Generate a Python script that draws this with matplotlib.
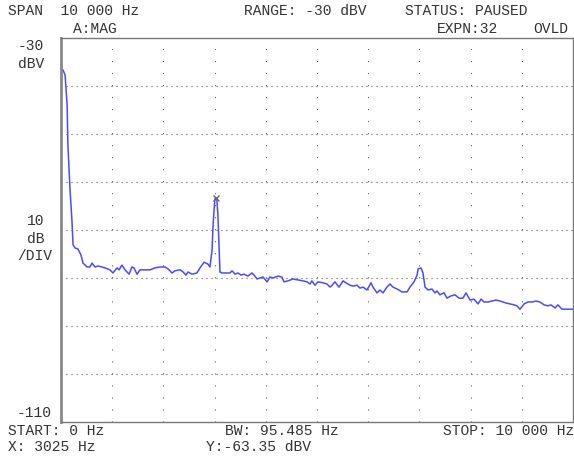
import matplotlib
matplotlib.use("Agg")
import matplotlib.pyplot as plt

# trace
freq_hz = [0, 40, 80, 120, 135, 175, 215, 235, 275, 330,
           390, 430, 510, 565, 605, 665, 725, 800, 860, 955,
           1015, 1095, 1135, 1190, 1250, 1330, 1385, 1425, 1485, 1545,
           1640, 1740, 1835, 1935, 2030, 2090, 2170, 2225, 2325, 2385,
           2440, 2480, 2560, 2655, 2715, 2795, 2870, 2910, 2950, 2970,
           3005, 3025, 3045, 3065, 3085, 3105, 3145, 3205, 3300, 3340,
           3400, 3455, 3515, 3575, 3650, 3730, 3770, 3830, 3885, 3945,
           4025, 4080, 4140, 4240, 4315, 4355, 4435, 4530, 4630, 4725,
           4805, 4865, 4900, 4960, 5020, 5115, 5195, 5255, 5295, 5350,
           5430, 5510, 5565, 5645, 5705, 5780, 5840, 5900, 5975, 6055,
           6095, 6170, 6230, 6290, 6365, 6425, 6485, 6565, 6660, 6760,
           6815, 6895, 6955, 6975, 7030, 7070, 7110, 7170, 7245, 7305,
           7345, 7400, 7480, 7540, 7615, 7695, 7775, 7850, 7910, 7990,
           8065, 8145, 8205, 8260, 8340, 8420, 8495, 8575, 8635, 8690,
           8770, 8850, 8905, 8965, 9045, 9120, 9200, 9275, 9355, 9435,
           9510, 9570, 9650, 9705, 9785, 9865, 9940, 10000]
level_dbv = [-36.25, -36.7, -37.7, -44.0, -52.3, -61.25, -68.3, -73.1, -73.75, -73.95,
             -75.2, -76.9, -77.7, -77.7, -76.9, -77.7, -77.5, -77.7, -77.9, -78.3,
             -78.95, -77.9, -78.3, -77.3, -78.3, -79.2, -77.7, -77.9, -79.2, -78.3,
             -78.3, -78.3, -77.9, -77.7, -77.7, -78.1, -78.95, -78.5, -78.3, -78.75,
             -79.4, -78.75, -79.2, -78.95, -77.9, -76.7, -77.1, -77.7, -74.2, -69.0,
             -63.5, -63.35, -63.75, -66.9, -73.1, -78.75, -78.95, -78.95, -78.95, -78.5,
             -79.2, -78.95, -79.4, -79.2, -79.6, -78.95, -79.4, -80.2, -80.0, -79.8,
             -80.8, -79.8, -80.0, -79.6, -79.8, -80.8, -80.6, -80.2, -80.4, -80.6,
             -80.8, -81.25, -80.6, -81.5, -80.8, -81.0, -81.25, -81.9, -81.5, -80.8,
             -81.9, -80.6, -81.0, -81.5, -81.7, -81.5, -82.1, -81.9, -82.5, -81.0,
             -81.9, -83.1, -82.5, -83.1, -81.9, -81.25, -81.9, -82.3, -82.9, -82.9,
             -81.9, -80.8, -79.4, -78.1, -77.9, -78.95, -81.9, -82.5, -82.3, -83.1,
             -82.7, -83.5, -83.1, -84.2, -83.75, -83.5, -84.2, -84.2, -83.1, -84.6,
             -84.4, -85.4, -84.4, -85.0, -85.0, -84.8, -84.6, -84.8, -85.0, -85.2,
             -85.4, -85.6, -85.8, -86.5, -85.4, -85.0, -85.0, -84.8, -85.0, -85.6,
             -85.8, -85.6, -86.25, -85.6, -86.5, -86.5, -86.5, -86.5]

marker_hz = 3025
marker_dbv = -63.35

x_lines = [1000, 2000, 3000, 4000, 5000, 6000, 7000, 8000, 9000]
y_lines = [-40, -50, -60, -70, -80, -90, -100]

W, H = 574, 457
plt.rcParams['lines.scale_dashes'] = False
fig = plt.figure(figsize=(W / 100, H / 100), dpi=100)
ax = fig.add_axes([61 / W, 1 - 422 / H, 512 / W, 384 / H])

for xv in x_lines:
    ax.axvline(xv, color='#555555', lw=0.8, linestyle=(0, (0.75, 7.9)))
for yv in y_lines:
    ax.axhline(yv, color='#555555', lw=0.8, linestyle=(0, (0.75, 2.85)))

ax.plot(freq_hz, level_dbv, color='#4a4aff', lw=1.1)
ax.plot([marker_hz], [marker_dbv], marker='x', color='#666666', ms=4, mew=1)

ax.set_xlim(0, 10000)
ax.set_ylim(-110, -30)
ax.set_xticks([])
ax.set_yticks([])
for side in ['top', 'right', 'bottom']:
    ax.spines[side].set_color('#777777')
    ax.spines[side].set_linewidth(1.0)
ax.spines['left'].set_color('#888888')
ax.spines['left'].set_linewidth(2.0)

font = dict(family='Liberation Mono', fontsize=10.5, color='#333333', va='center')


def label(x, y, s, **kw):
    fig.text(x / W, 1 - y / H, s, **font, **kw)


label(8, 11, "SPAN  10 000 Hz")
label(244, 11, "RANGE: -30 dBV")
label(405, 11, "STATUS: PAUSED")
label(73, 29, "A:MAG")
label(437, 29, "EXPN:32")
label(533, 29, "OVLD")

label(44, 46, "-30", ha='right')
label(44, 64, "dBV", ha='right')
label(44, 221, "10", ha='right')
label(44, 239, "dB", ha='right')
label(52, 256, "/DIV", ha='right')
label(52, 413, "-110", ha='right')

label(8, 431, "START: 0 Hz")
label(225, 431, "BW: 95.485 Hz")
label(574, 431, "STOP: 10 000 Hz", ha='right')
label(8, 447, "X: 3025 Hz")
label(206, 447, "Y:-63.35 dBV")

fig.savefig('out.png', dpi=100)
